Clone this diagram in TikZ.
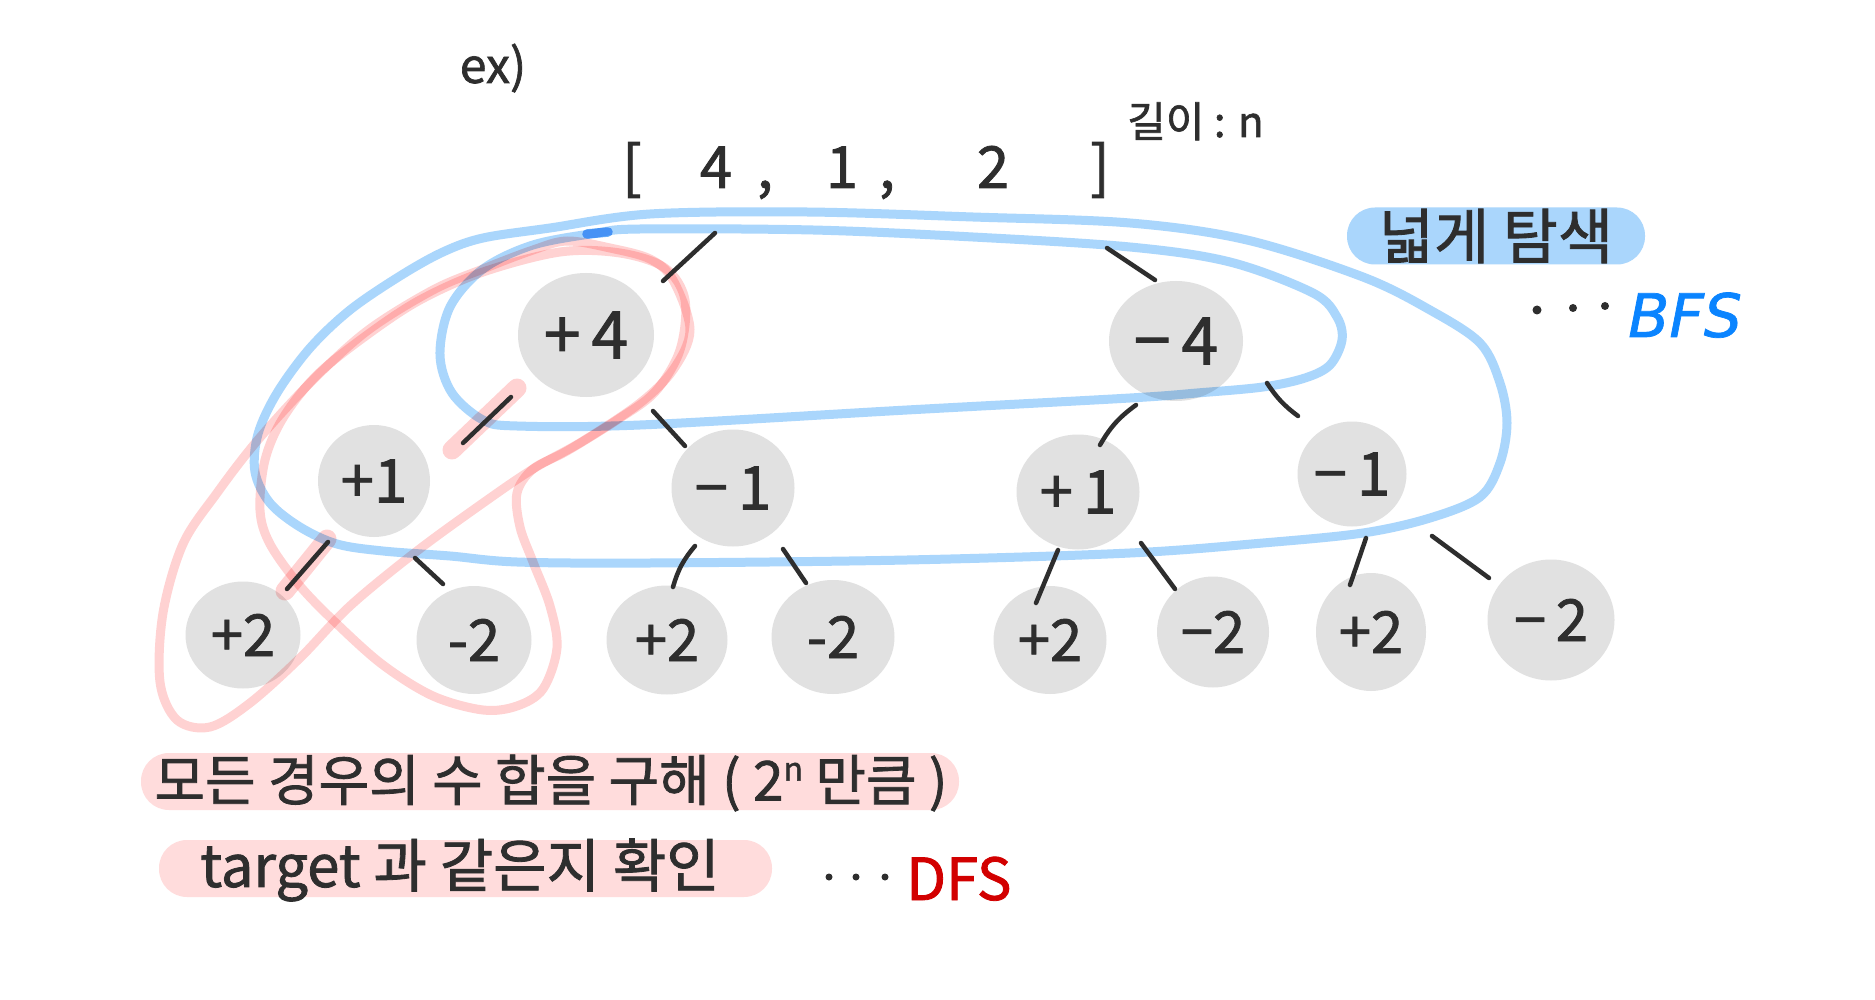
\documentclass[tikz,border=0pt]{standalone}
\usepackage{fontspec}
\setmainfont{Noto Sans CJK KR}[FakeBold=1.4]
\newfontfamily\latinfont{DejaVu Sans}[FakeBold=1.2]
\usetikzlibrary{calc,shapes.geometric}
\definecolor{ink}{RGB}{46,46,46}
\definecolor{nodegray}{RGB}{225,225,225}
\definecolor{bfsblue}{RGB}{170,214,252}
\definecolor{dotblue}{RGB}{105,175,248}
\definecolor{dfspink}{RGB}{255,210,210}
\definecolor{hlpink}{RGB}{255,220,220}
\definecolor{bfstext}{RGB}{10,132,255}
\definecolor{dfstext}{RGB}{210,0,0}
\newcommand\fs[1]{\fontsize{#1}{#1}\selectfont}
\begin{document}
\begin{tikzpicture}[x=1pt,y=-1pt,
  numnode/.style={ellipse, fill=nodegray, inner sep=0pt, text=ink},
  lvlone/.style={numnode, font=\fs{66}},
  lvltwo/.style={numnode, font=\fs{60}},
  leaf/.style={numnode, font=\fs{58}},
  edge/.style={draw=ink, line width=4.5pt, line cap=round},
  bfsloop/.style={draw=bfsblue, line width=9pt, line cap=round, line join=round},
  dfsloop/.style={draw=dfspink, line width=9pt, line cap=round, line join=round},
  pathmark/.style={draw=dfspink, line width=19pt, line cap=round},
  txt/.style={text=ink, inner sep=0pt},
  pill/.style={inner sep=0pt, rounded corners=28pt},
]
\useasboundingbox (0,0) rectangle (1875,1000);
\fill[white] (0,0) rectangle (1875,1000);

% ---------- top texts ----------
\node[txt, font=\fs{48}, anchor=base] (ex) at (493,83) {ex)};
\node[txt, font=\fs{58}, anchor=base] (a1) at (632,188) {[};
\node[txt, font=\fs{58}, anchor=base] (a2) at (716,188) {4};
\node[txt, font=\fs{58}, anchor=base] (a3) at (765,188) {,};
\node[txt, font=\fs{58}, anchor=base] (a4) at (842,188) {1};
\node[txt, font=\fs{58}, anchor=base] (a5) at (887,188) {,};
\node[txt, font=\fs{58}, anchor=base] (a6) at (993,188) {2};
\node[txt, font=\fs{58}, anchor=base] (a7) at (1100,188) {]};
\coordinate (root) at (870,205);
\node[txt, font=\fs{42}, anchor=base west] (len) at (1127,137) {길이 : n};

% ---------- BFS label ----------
\node[pill, fill=bfsblue, minimum width=298pt, minimum height=57pt, text=ink, font=\fs{60}] (bfslabel) at (1496,236) {넓게 탐색};
\fill[ink] (1537,310) circle (4.5);
\fill[ink] (1573,308) circle (4);
\fill[ink] (1605,306) circle (4);
\node[inner sep=0pt, text=bfstext, font=\latinfont\itshape\fs{60}, anchor=base west] (bfs) at (1628,337) {BFS};

% ---------- tree nodes ----------
\node[lvlone, minimum width=136pt, minimum height=124pt] (p4) at (586,335) {+\,4};
\node[lvlone, minimum width=134pt, minimum height=120pt] (m4) at (1176,341) {−\,4};
\node[lvltwo, minimum width=112pt, minimum height=112pt] (p1) at (374,481) {+1};
\node[lvltwo, minimum width=123pt, minimum height=117pt] (m1) at (733,488) {−\,1};
\node[lvltwo, minimum width=123pt, minimum height=115pt] (p1r) at (1078,492) {+\,1};
\node[lvltwo, minimum width=109pt, minimum height=105pt] (m1r) at (1352,474) {−\,1};
\node[leaf, minimum width=115pt, minimum height=107pt] (p2a) at (243,635) {+2};
\node[leaf, minimum width=115pt, minimum height=108pt] (m2b) at (474,640) {-2};
\node[leaf, minimum width=121pt, minimum height=109pt] (p2c) at (667,640) {+2};
\node[leaf, minimum width=123pt, minimum height=114pt] (m2d) at (833,637) {-2};
\node[leaf, minimum width=113pt, minimum height=108pt] (p2e) at (1050,640) {+2};
\node[leaf, minimum width=112pt, minimum height=111pt] (m2f) at (1213,632) {−2};
\node[leaf, minimum width=110pt, minimum height=118pt] (p2g) at (1371,632) {+2};
\node[leaf, minimum width=127pt, minimum height=121pt] (m2h) at (1551,620) {−\,2};

% ---------- loops ----------
\begin{scope}[blend mode=multiply]
% BFS outer loop (levels 1 and 2)
\draw[bfsloop] plot[smooth cycle, tension=0.55] coordinates {
 (443,252) (483,238) (550,228) (650,214) (807,212) (973,217) (1130,223)
 (1247,240) (1363,277) (1430,310) (1480,343) (1500,383) (1507,423)
 (1500,463) (1480,497) (1430,518) (1363,533) (1263,543) (1130,553)
 (907,560) (650,563) (517,562) (450,556) (383,551) (337,544) (300,527)
 (270,503) (255,472) (258,434) (277,393) (310,348) (350,310) (400,276)};
% BFS inner loop (level 1)
\draw[bfsloop] plot[smooth cycle, tension=0.55] coordinates {
 (597,233) (640,229) (813,230) (973,237) (1130,247) (1230,262) (1313,293)
 (1337,317) (1342,340) (1330,365) (1305,378) (1263,387) (1197,393)
 (1130,398) (907,410) (640,425) (517,426) (483,420) (452,393) (440,355)
 (450,307) (483,269) (533,245)};
\draw[draw=dotblue, line width=9.5pt, line cap=round] (587,234) -- (608,232);
% DFS loops
\draw[dfsloop] plot[smooth cycle, tension=0.55] coordinates {
 (567,241) (610,248) (650,259) (673,280) (690,330) (673,370) (640,403)
 (583,441) (533,469) (483,503) (417,551) (350,606) (300,658) (250,703)
 (210,727) (177,720) (160,682) (163,613) (183,544) (217,493) (257,441)
 (310,383) (367,331) (433,290) (483,269) (533,250)};
\draw[dfsloop] plot[smooth cycle, tension=0.55] coordinates {
 (560,252) (483,272) (420,300) (367,335) (317,375) (283,418) (265,460)
 (260,510) (270,544) (300,586) (337,624) (383,665) (433,696) (483,710)
 (517,706) (543,689) (557,648) (550,606) (533,562) (520,527) (517,493)
 (533,469) (567,451) (617,420) (655,392) (680,350) (685,300) (665,268)
 (620,253)};
% highlighted path edges
\draw[pathmark] ($(p4)+(-69,53)$) -- ($(p1)+(78,-31)$);
\draw[pathmark] ($(p1)+(-47,58)$) -- ($(p2a)+(42,-44)$);
\end{scope}

% ---------- connectors ----------
\draw[edge] ($(root)+(-155,28)$) -- ($(p4)+(77,-54)$);
\draw[edge] ($(root)+(237,43)$) -- ($(m4)+(-21,-61)$);
\draw[edge] ($(p4)+(-75,62)$) -- ($(p1)+(89,-38)$);
\draw[edge] ($(p4)+(67,76)$) -- ($(m1)+(-48,-42)$);
\draw[edge] ($(m4)+(-40,64)$) to[bend right=12] ($(p1r)+(22,-47)$);
\draw[edge] ($(m4)+(91,42)$) to[bend right=10] ($(m1r)+(-54,-58)$);
\draw[edge] ($(p1)+(-46,61)$) -- ($(p2a)+(44,-46)$);
\draw[edge] ($(p1)+(41,77)$) -- ($(m2b)+(-31,-56)$);
\draw[edge] ($(m1)+(-38,58)$) to[bend right=12] ($(p2c)+(6,-53)$);
\draw[edge] ($(m1)+(50,61)$) -- ($(m2d)+(-27,-54)$);
\draw[edge] ($(p1r)+(-20,58)$) -- ($(p2e)+(-14,-37)$);
\draw[edge] ($(p1r)+(63,51)$) -- ($(m2f)+(-38,-43)$);
\draw[edge] ($(m1r)+(14,64)$) -- ($(p2g)+(-21,-47)$);
\draw[edge] ($(m1r)+(80,62)$) -- ($(m2h)+(-62,-42)$);

% ---------- bottom texts ----------
\node[pill, fill=hlpink, minimum width=818pt, minimum height=57pt] (hl1) at (550,781.5) {};
\node[txt, font=\fs{55}] (t1) at (551,783) {모든 경우의 수 합을 구해 ( 2\raisebox{20pt}{\fs{32}n} 만큼 )};
\node[pill, fill=hlpink, minimum width=613pt, minimum height=57pt] (hl2) at (465.5,868.5) {};
\node[txt, font=\fs{58}] (t2) at (460,870) {target 과 같은지 확인};
\fill[ink] (829,877) circle (3.5);
\fill[ink] (856,877) circle (3.5);
\fill[ink] (885,877) circle (3.5);
\node[inner sep=0pt, text=dfstext, font=\fs{58}, anchor=base west] (dfs) at (906,900) {DFS};
\end{tikzpicture}
\end{document}
